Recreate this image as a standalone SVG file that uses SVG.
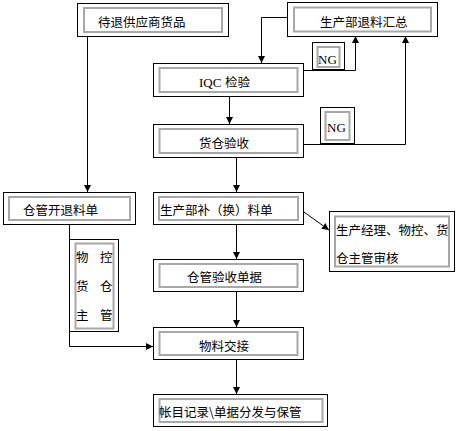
<svg xmlns="http://www.w3.org/2000/svg" width="458" height="431" viewBox="0 0 458 431">
<defs>
<style>
.o{fill:#fff;stroke:#000;stroke-width:1}
.i{fill:none;stroke:#a8a8a8;stroke-width:2}
.t{font-family:"Noto Sans CJK SC","Liberation Sans",sans-serif;font-size:12.5px;fill:#000}
.s{font-family:"Liberation Serif",serif;font-size:13px;fill:#000}
.c{fill:none;stroke:#000;stroke-width:1}
</style>
<marker id="a" viewBox="0 0 8 8" refX="8" refY="4" markerWidth="7" markerHeight="7" markerUnits="userSpaceOnUse" orient="auto">
<path d="M0,0 L8,4 L0,8 Z" fill="#000"/>
</marker>
</defs>
<rect width="458" height="431" fill="#fff"/>
<g id="connectors">
<path class="c" d="M87.5,36 V192" marker-end="url(#a)"/>
<path class="c" d="M287,17.5 H261.5 V63" marker-end="url(#a)"/>
<path class="c" d="M229.5,97 V124" marker-end="url(#a)"/>
<path class="c" d="M304,70.5 H355.5 V36" marker-end="url(#a)"/>
<path class="c" d="M304,144.5 H405.5 V36" marker-end="url(#a)"/>
<path class="c" d="M236.5,157 V192" marker-end="url(#a)"/>
<path class="c" d="M304,212 L329,230" marker-end="url(#a)"/>
<path class="c" d="M236.5,224 V259" marker-end="url(#a)"/>
<path class="c" d="M69.5,224 V346.5 H153" marker-end="url(#a)"/>
<path class="c" d="M236.5,292 V327" marker-end="url(#a)"/>
<path class="c" d="M236.5,360 V394" marker-end="url(#a)"/>
</g>
<g id="n1"><rect class="o" x="77.5" y="3.5" width="151" height="33"/><rect class="i" x="84" y="8" width="138" height="24"/><text class="t" x="98" y="26.5">待退供应商货品</text></g>
<g id="n2"><rect class="o" x="287.5" y="2.5" width="150" height="34"/><rect class="i" x="294" y="7.5" width="137" height="24"/><text class="t" x="320" y="26.5">生产部退料汇总</text></g>
<g id="n3"><rect class="o" x="153.5" y="63.5" width="150" height="33"/><rect class="i" x="159.5" y="68" width="138" height="24"/><text class="s" x="199" y="86.5">IQC</text><text class="t" x="225" y="86.5">检验</text></g>
<g id="ng1"><rect class="o" x="312.5" y="42.5" width="32" height="27"/><rect class="i" x="317.5" y="47" width="22" height="20"/><text class="s" x="318" y="64">NG</text></g>
<g id="ng2"><rect class="o" x="320.5" y="107.5" width="34" height="36"/><rect class="i" x="325.5" y="112" width="24" height="28"/><text class="s" x="327" y="132">NG</text></g>
<g id="n4"><rect class="o" x="153.5" y="124.5" width="150" height="33"/><rect class="i" x="159.5" y="129" width="138" height="24"/><text class="t" x="199" y="147.5">货仓验收</text></g>
<g id="n5"><rect class="o" x="3.5" y="192.5" width="132" height="32"/><rect class="i" x="9" y="197" width="121" height="23"/><text class="t" x="23" y="214.5">仓管开退料单</text></g>
<g id="n6"><rect class="o" x="153.5" y="192.5" width="150" height="32"/><rect class="i" x="159" y="197" width="139" height="23"/><text class="t" x="160" y="214.5">生产部补（换）料单</text></g>
<g id="n7"><rect class="o" x="329.5" y="211.5" width="125" height="60"/><rect class="i" x="335" y="216.5" width="114" height="50"/><text class="t" x="336" y="234.5">生产经理、物控、货</text><text class="t" x="336" y="262.5">仓主管审核</text></g>
<g id="n8"><rect class="o" x="69.5" y="239.5" width="49" height="92"/><rect class="i" x="75.5" y="243.5" width="38" height="85"/>
<text class="t" x="76" y="261.5">物</text><text class="t" x="100" y="261.5">控</text>
<text class="t" x="76" y="290.5">货</text><text class="t" x="100" y="290.5">仓</text>
<text class="t" x="76" y="319.5">主</text><text class="t" x="100" y="319.5">管</text></g>
<g id="n9"><rect class="o" x="153.5" y="259.5" width="150" height="32"/><rect class="i" x="159.5" y="264" width="138" height="23"/><text class="t" x="187" y="281.5">仓管验收单据</text></g>
<g id="n10"><rect class="o" x="153.5" y="327.5" width="150" height="32"/><rect class="i" x="159.5" y="332" width="138" height="23"/><text class="t" x="199" y="350.5">物料交接</text></g>
<g id="n11"><rect class="o" x="153.5" y="394.5" width="174" height="32"/><rect class="i" x="159.5" y="399" width="163" height="23"/><text class="t" x="159" y="416.5">帐目记录\单据分发与保管</text></g>
</svg>
